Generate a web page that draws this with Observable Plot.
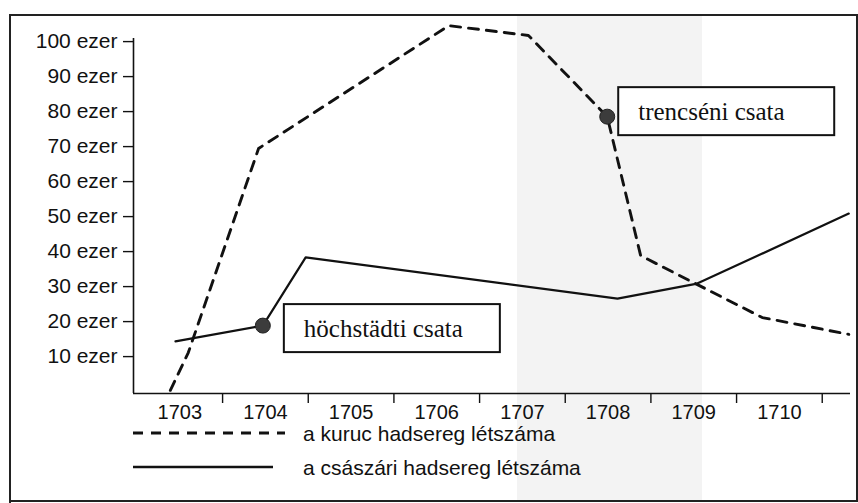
<!DOCTYPE html>
<html>
<head>
<meta charset="utf-8">
<script src="https://cdn.jsdelivr.net/npm/d3@7"></script>
<script src="https://cdn.jsdelivr.net/npm/@observablehq/plot@0.6"></script>
<style>
  html, body { margin: 0; padding: 0; background: #fff; }
  #chart { width: 858px; height: 503px; }
</style>
</head>
<body>
<div id="chart"></div>
<script>
// ---- data ----
const yearLabels = [1703, 1704, 1705, 1706, 1707, 1708, 1709, 1710];
const yearBoundaries = [1704, 1705, 1706, 1707, 1708, 1709, 1710, 1711];
const yTicks = [10, 20, 30, 40, 50, 60, 70, 80, 90, 100];

// a kuruc hadsereg létszáma (ezer fő)
const kurucYear  = [1703.39, 1703.60, 1704.42, 1706.64, 1707.57, 1708.49, 1708.88, 1709.52, 1710.30, 1711.31];
const kurucValue = [1.5, 12.3, 70.6, 105.7, 102.9, 79.7, 40.0, 32.0, 22.3, 17.5];

// a császári hadsereg létszáma (ezer fő)
const csaszariYear  = [1703.45, 1704.47, 1704.97, 1708.61, 1709.54, 1711.31];
const csaszariValue = [15.5, 20.0, 39.5, 27.7, 32.0, 52.0];

// csaták
const battleNames = ["höchstädti csata", "trencséni csata"];
const battleYear  = [1704.47, 1708.49];
const battleValue = [20.0, 79.7];

const legendLabels = ["a kuruc hadsereg létszáma", "a császári hadsereg létszáma"];

// ---- tables ----
const kuruc = kurucYear.map((x, i) => ({x, y: kurucValue[i]}));
const csaszari = csaszariYear.map((x, i) => ({x, y: csaszariValue[i]}));
const battles = battleNames.map((name, i) => ({name, x: battleYear[i], y: battleValue[i]}));

const X0 = 1702.96, X1 = 1711.33, Y0 = 0.6, Y1 = 108.6;
const DASH = "10,8";
const SERIF = "'Liberation Serif', 'Times New Roman', serif";

const plot = Plot.plot({
  width: 858,
  height: 503,
  marginLeft: 133,
  marginRight: 8,
  marginTop: 15,
  marginBottom: 110,
  x: {domain: [X0, X1], axis: null},
  y: {domain: [Y0, Y1], axis: null},
  style: {fontFamily: "'Liberation Sans', Arial, sans-serif", fontSize: "20px", color: "#111", background: "transparent", overflow: "visible"},
  marks: [
    Plot.ruleY([Y0], {stroke: "#111", strokeWidth: 1.6}),
    Plot.ruleX([X0], {y1: Y0, y2: 102, stroke: "#111", strokeWidth: 1.6}),
    Plot.axisY({ticks: yTicks, tickSize: 10, tickPadding: 6, tickFormat: d => `${d} ezer`, label: null, dy: -4, fontSize: 21, strokeWidth: 1.4}),
    // tick marks only, at year boundaries
    Plot.axisX({ticks: yearBoundaries, tickSize: 10, fill: "none", label: null, strokeWidth: 1.4}),
    // year labels in the middle of each year's interval
    Plot.axisX({ticks: yearLabels.map(d => d + 0.5), tickSize: 0, tickPadding: 11, tickFormat: d => String(Math.floor(d)), label: null, fontSize: 20}),
    Plot.line(kuruc, {x: "x", y: "y", stroke: "#111", strokeWidth: 2.9, strokeDasharray: DASH}),
    Plot.line(csaszari, {x: "x", y: "y", stroke: "#111", strokeWidth: 2.2}),
    Plot.dot(battles, {x: "x", y: "y", r: 7.5, fill: "#3c3c3c", stroke: "#222", strokeWidth: 1}),
    Plot.text([battles[0]], {x: "x", y: "y", text: "name", textAnchor: "start", dx: 41, dy: 3, fontFamily: SERIF, fontSize: 25, fill: "#111", className: "battle-label"}),
    Plot.text([battles[1]], {x: "x", y: "y", text: "name", textAnchor: "start", dx: 31, dy: -5, fontFamily: SERIF, fontSize: 25, fill: "#111", className: "battle-label"})
  ]
});

document.getElementById("chart").appendChild(plot);

const svg = d3.select(plot);

// scan-like light band (decoration)
svg.insert("rect", ":first-child")
  .attr("x", 517).attr("y", 16).attr("width", 185).attr("height", 485)
  .attr("fill", "#f3f3f3");

// boxes behind the battle labels
const sr = plot.getBoundingClientRect();
plot.querySelectorAll(".battle-label text").forEach(t => {
  const r = t.getBoundingClientRect();
  const left = r.left - sr.left;
  const cy = (r.top + r.bottom) / 2 - sr.top;
  const rect = document.createElementNS("http://www.w3.org/2000/svg", "rect");
  rect.setAttribute("x", left - 20);
  rect.setAttribute("y", cy - 24);
  rect.setAttribute("width", 216);
  rect.setAttribute("height", 48);
  rect.setAttribute("fill", "#fff");
  rect.setAttribute("stroke", "#111");
  rect.setAttribute("stroke-width", 2);
  const g = t.closest("g.battle-label") || t.parentNode;
  plot.insertBefore(rect, g);
});

// legend
const lg = svg.append("g").attr("font-size", 21).attr("fill", "#111").attr("text-anchor", "start");
lg.append("line").attr("x1", 133).attr("x2", 285).attr("y1", 433).attr("y2", 433)
  .attr("stroke", "#111").attr("stroke-width", 2.9).attr("stroke-dasharray", DASH);
lg.append("text").attr("x", 303).attr("y", 441).attr("text-anchor", "start").text(legendLabels[0]);
lg.append("line").attr("x1", 133).attr("x2", 273).attr("y1", 467).attr("y2", 467)
  .attr("stroke", "#111").attr("stroke-width", 2.4);
lg.append("text").attr("x", 303).attr("y", 475).attr("text-anchor", "start").text(legendLabels[1]);

// outer frame
svg.append("path")
  .attr("d", "M10,503 V15 H857 V501 H10")
  .attr("fill", "none").attr("stroke", "#222").attr("stroke-width", 2);
</script>
</body>
</html>
